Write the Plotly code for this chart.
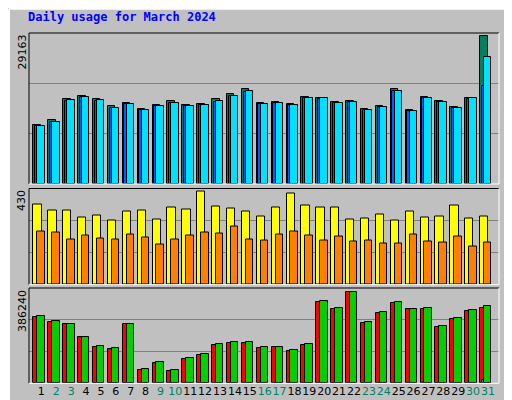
import plotly.graph_objects as go

days = list(range(1, 32))
weekend = [2, 3, 9, 10, 16, 17, 23, 24, 30, 31]
hits = [11665,12659,16703,17432,16703,15443,16040,14847,15642,16437,15642,15841,16703,17697,18691,
        16040,16239,15841,17233,16901,16239,16437,14847,15443,18691,14648,17233,16437,15244,17034,29163]
files = [11465,12259,16503,17232,16503,15043,15840,14647,15442,16037,15442,15641,16303,17397,18291,
         15840,16039,15641,17033,16901,16039,16237,14647,15243,18391,14448,17033,16237,15044,16934,24988]
pages = [11400,12200,16450,17150,16450,14950,15780,14600,15380,15950,15380,15580,16250,17300,18200,
         15780,15980,15580,16950,16850,15980,16180,14600,15180,18300,14400,16950,16180,14980,16850,19221]
visits = [369,341,341,309,318,295,337,341,300,355,346,430,360,351,337,314,355,421,365,355,355,300,
          304,323,295,337,309,314,365,304,314]
sites = [244,239,206,225,211,206,230,216,183,206,225,239,234,267,206,202,230,244,225,202,220,197,
         202,188,188,230,197,192,220,174,192]
kb_f = [280130,258910,250420,195240,152800,144310,250420,55180,84890,50930,101870,118840,161290,
        169780,169780,148550,152800,135820,161290,343800,314090,386240,254660,297110,339550,314090,
        314090,237690,271640,305600,318330]
kb_out = [284000,262000,253000,198000,156000,148000,253000,59000,89000,55000,106000,123000,165000,
          174000,174000,152000,152800,140000,165000,348000,317000,386240,258000,301000,344000,314090,
          318000,241000,276000,310000,326000]
kb_in = [2000,2000,3000,3000,3000,3000,3000,3000,3000,3000,3000,3000,3000,3000,3000,3000,3000,3000,
         3000,3000,3000,3000,3000,3000,3000,3000,3000,3000,3000,3000,12000]

max_hits, max_vis, max_kb = 29163, 430, 386240
R1, R2, R3 = max_hits*150/147, 442, max_kb*95/91

fig = go.Figure()
def bar(y, color, off, w, ax):
    fig.add_trace(go.Bar(x=days, y=y, offset=off, width=w, marker_color=color,
                         marker_line_color="black", marker_line_width=1,
                         xaxis="x", yaxis=ax, showlegend=False, hoverinfo="skip"))
bar(hits, "#008060", -0.53, 0.5, "y")
bar(pages, "#0060ff", -0.42, 0.5, "y")
bar(files, "#00e0ff", -0.27, 0.5, "y")
bar(visits, "#ffff00", -0.53, 0.55, "y2")
bar(sites, "#ff8000", -0.27, 0.5, "y2")
bar(kb_f, "#ff0000", -0.53, 0.5, "y3")
bar(kb_in, "#0080ff", -0.40, 0.3, "y3")
bar(kb_out, "#00d000", -0.27, 0.5, "y3")

H = 400.0
def dom(top, bot):
    return [1 - bot/H, 1 - top/H]
d1, d2, d3 = dom(25, 176), dom(180.5, 276.7), dom(280, 375.3)
ticktext = [f'<span style="color:#008060">{d}</span>' if d in weekend else str(d) for d in days]
def yax(dm, r):
    return dict(domain=dm, range=[0, r], tickvals=[r/3, 2*r/3], showticklabels=False,
                gridcolor="#808080", gridwidth=1, zeroline=False, ticks="", fixedrange=True)
fig.update_layout(
    width=512, height=400, margin=dict(l=0, r=0, t=0, b=0),
    paper_bgcolor="#c0c0c0", plot_bgcolor="#c0c0c0", barmode="overlay", bargap=0,
    font=dict(family="DejaVu Sans", size=11, color="black"),
    xaxis=dict(domain=[21/512, 491/512], range=[0.17, 31.74], tickvals=days, ticktext=ticktext,
               tickangle=0, showgrid=False, zeroline=False, ticks="", anchor="y3",
               tickfont=dict(size=11), automargin=False),
    yaxis=yax(d1, R1), yaxis2=yax(d2, R2), yaxis3=yax(d3, R3),
)
shapes = []
for dm in (d1, d2, d3):
    y0, y1 = dm
    shapes.append(dict(type="line", xref="paper", yref="paper", x0=21/512, x1=491/512, y0=y1, y1=y1, line=dict(color="black", width=1)))
    shapes.append(dict(type="line", xref="paper", yref="paper", x0=21/512, x1=21/512, y0=y0, y1=y1, line=dict(color="black", width=1)))
    shapes.append(dict(type="line", xref="paper", yref="paper", x0=21/512, x1=491/512, y0=y0, y1=y0, line=dict(color="white", width=1)))
    shapes.append(dict(type="line", xref="paper", yref="paper", x0=491/512, x1=491/512, y0=y0, y1=y1, line=dict(color="white", width=1)))
shapes += [
    dict(type="line", xref="paper", yref="paper", x0=0.002, x1=0.998, y0=0.998, y1=0.998, line=dict(color="white", width=2)),
    dict(type="line", xref="paper", yref="paper", x0=0.002, x1=0.002, y0=0.002, y1=0.998, line=dict(color="white", width=2)),
    dict(type="line", xref="paper", yref="paper", x0=0.002, x1=0.998, y0=0.004, y1=0.004, line=dict(color="#808080", width=3)),
    dict(type="line", xref="paper", yref="paper", x0=0.996, x1=0.996, y0=0.002, y1=0.998, line=dict(color="#808080", width=3)),
]
fig.update_layout(shapes=shapes)
ann = [dict(text="<b>Daily usage for March 2024</b>", x=18/512, y=1-9/H, xref="paper", yref="paper",
            xanchor="left", yanchor="middle", showarrow=False,
            font=dict(family="DejaVu Sans Mono", size=12, color="#0000ff"))]
for dm, lab in ((d1, str(max_hits)), (d2, str(max_vis)), (d3, str(max_kb))):
    ann.append(dict(text=lab, x=14/512, y=dm[1], xref="paper", yref="paper", textangle=-90,
                    xanchor="center", yanchor="top", showarrow=False, font=dict(size=11)))

CW = 6.7  # px per mono char
rlabels = [
    (d1, [("Hits", "#008060"), (" / ", "#808080"), ("Files", "#0060ff"), (" / ", "#808080"), ("Pages", "#00c8f0")]),
    (d2, [("Visits", "#d8d800"), (" / ", "#808080"), ("Sites", "#ff8000")]),
    (d3, [("kB Out", "#00c000"), (" / ", "#808080"), ("kB In", "#0080ff"), (" / ", "#808080"), ("kB F", "#ff0000")]),
]
for dm, parts in rlabels:
    top_px = (1 - dm[1]) * H + 1
    for txt, col in parts:
        n = len(txt)
        if txt.strip():
            ann.append(dict(text=txt.strip(), x=501/512, y=1 - (top_px + n*CW/2)/H,
                            xref="paper", yref="paper", textangle=-90,
                            xanchor="center", yanchor="middle", showarrow=False,
                            font=dict(family="DejaVu Sans Mono", size=11, color=col)))
        top_px += n * CW
fig.update_layout(annotations=ann)
fig.write_html("out.html", config={"displayModeBar": False})
